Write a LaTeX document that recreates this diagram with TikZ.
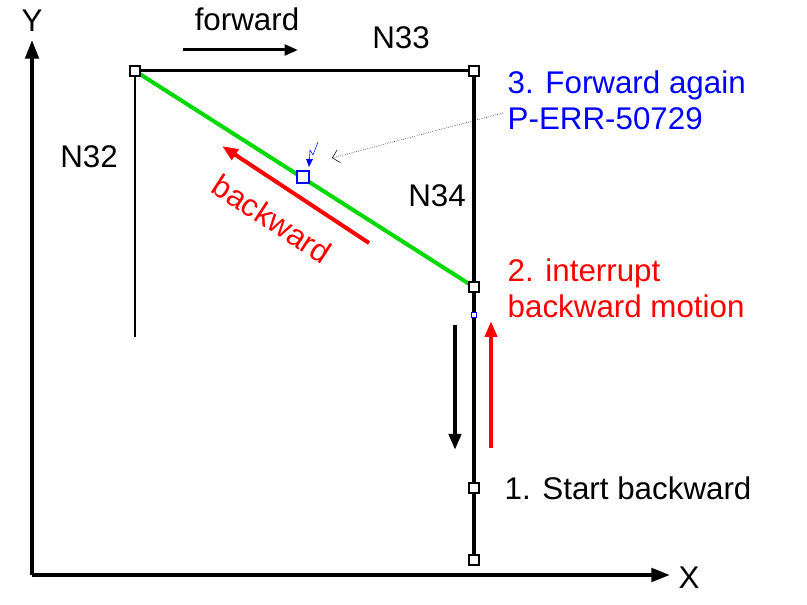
\documentclass[tikz,border=0pt]{standalone}
\usepackage{fontspec}
\setmainfont{Liberation Sans}
\usetikzlibrary{arrows.meta, positioning}

\begin{document}
\begin{tikzpicture}[x=0.75pt, y=-0.75pt,
    pt/.style={draw=black, fill=white, line width=1.5pt, minimum size=7pt, inner sep=0pt},
    lbl/.style={font=\fontsize{23.5}{27}\selectfont}]
    \useasboundingbox (0,0) rectangle (807,605);

    % Axes
    \coordinate (O) at (32,575);
    \coordinate (Xend) at (670,575);
    \coordinate (Yend) at (32,40);
    \draw[line width=3pt, -{Triangle[length=14pt, width=10pt]}] (O) -- (Xend);
    \draw[line width=3pt, -{Triangle[length=14pt, width=10pt]}] (O) -- (Yend);
    \node[lbl] (xl) at (689,578) {X};
    \node[lbl] (yl) at (32,21) {Y};

    % Path points
    \coordinate (p32) at (135,71);
    \coordinate (p32end) at (135,337);
    \coordinate (p33) at (474,71);
    \coordinate (p34) at (474,287);
    \coordinate (pstart) at (474,488);
    \coordinate (pbot) at (474,560);

    \draw[line width=2pt] (p32) -- (p32end);
    \draw[line width=2.25pt] (p32) -- (p33);
    \draw[line width=3pt] (p33) -- (pbot);
    \draw[green!85!black, line width=3pt] (p32) -- (p34);

    \foreach \p in {p32, p33, p34, pstart, pbot}
        \node[pt] at (\p) {};
    \node[draw=blue, fill=white, line width=1.6pt, minimum size=9pt, inner sep=0pt] (err) at (303,177) {};
    \node[draw=blue, fill=white, minimum size=4pt, inner sep=0pt] (intr) at (474,315) {};

    % Motion arrows
    \draw[line width=2.25pt, -{Triangle[length=10pt, width=8pt]}] (183,50) -- (298,50);
    \draw[red, line width=3pt, -{Triangle[length=12pt, width=9pt]}] (369,243) -- (222,146);
    \draw[line width=3pt, -{Triangle[length=12pt, width=9pt]}] (455,325) -- (455,450);
    \draw[red, line width=3pt, -{Triangle[length=12pt, width=9pt]}] (491,448) -- (491,321);

    % Labels
    \node[lbl] (fwd) at (247,19) {forward};
    \node[lbl] (n33) at (401,38) {N33};
    \node[lbl] (n32) at (89,157) {N32};
    \node[lbl] (n34) at (437,196) {N34};
    \node[lbl, red, rotate=-33] (bwd) at (272,219) {backward};
    \node[lbl, blue, align=left, anchor=west] (again) at (503,100) {3. Forward again\\P-ERR-50729};
    \node[lbl, red, align=left, anchor=west] (intrl) at (503,288) {2. interrupt\\backward motion};
    \node[lbl, anchor=west] (startl) at (500,488) {1. Start backward};

    % Pointer to error spot
    \draw[densely dotted, -{Straight Barb[length=5pt]}] (again.west |- 0,113) -- (332,158);
    \draw[blue, -{Triangle[length=6pt, width=5pt]}] (318,142) -- (313,155) -- (310,150) -- (309,167);
\end{tikzpicture}
\end{document}
